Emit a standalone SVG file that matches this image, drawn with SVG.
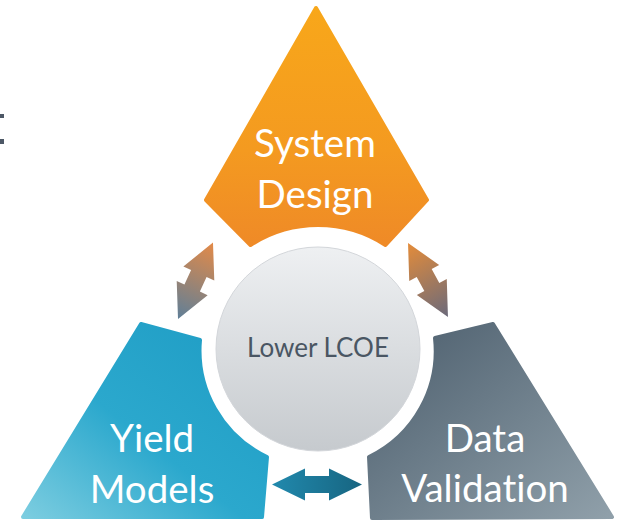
<svg xmlns="http://www.w3.org/2000/svg" width="619" height="525" viewBox="0 0 619 525">
  <defs>
    <linearGradient id="gOrange" x1="0" y1="0" x2="0" y2="1">
      <stop offset="0" stop-color="#f8a71a"/>
      <stop offset="0.6" stop-color="#f49a20"/>
      <stop offset="1" stop-color="#ef8a27"/>
    </linearGradient>
    <linearGradient id="gTeal" x1="0" y1="1" x2="1" y2="0">
      <stop offset="0" stop-color="#7ccde0"/>
      <stop offset="0.45" stop-color="#2ba8cd"/>
      <stop offset="1" stop-color="#1e9cc4"/>
    </linearGradient>
    <linearGradient id="gSlate" x1="0" y1="0" x2="1" y2="1">
      <stop offset="0" stop-color="#4b5d6c"/>
      <stop offset="1" stop-color="#90a0aa"/>
    </linearGradient>
    <linearGradient id="gCore" x1="0" y1="0" x2="0" y2="1">
      <stop offset="0" stop-color="#eef0f2"/>
      <stop offset="1" stop-color="#c6cace"/>
    </linearGradient>
    <linearGradient id="gArrowL" x1="0" y1="0" x2="1" y2="0">
      <stop offset="0" stop-color="#5f7f98"/>
      <stop offset="1" stop-color="#e38a48"/>
    </linearGradient>
    <linearGradient id="gArrowR" x1="0" y1="0" x2="1" y2="0">
      <stop offset="0" stop-color="#e48c3a"/>
      <stop offset="1" stop-color="#6b6a7b"/>
    </linearGradient>
    <linearGradient id="gArrowB" x1="0" y1="0" x2="1" y2="0">
      <stop offset="0" stop-color="#2189ad"/>
      <stop offset="1" stop-color="#176581"/>
    </linearGradient>
    <!-- double-headed arrow, centred on the origin along x -->
    <path id="dblArrow" d="M -42,0 L -8,-17 L -8,-8.5 L 8,-8.5 L 8,-17 L 42,0 L 8,17 L 8,8.5 L -8,8.5 L -8,17 Z"/>
    <path id="dblArrowWide" d="M -45,0 L -12,-16 L -12,-8.5 L 12,-8.5 L 12,-16 L 45,0 L 12,16 L 12,8.5 L -12,8.5 L -12,16 Z"/>
  </defs>
  <style>
    text { font-variant-ligatures: none; font-feature-settings: "liga" 0, "clig" 0; }
    .label { font-family: Lato, "Liberation Sans", sans-serif; fill: #ffffff; font-size: 38.5px; text-anchor: middle; }
    .core { font-family: Lato, "Liberation Sans", sans-serif; fill: #4a5663; font-size: 26px; text-anchor: middle; }
    .shape { stroke-width: 4; stroke-linejoin: round; }
  </style>

  <!-- clipped glyph fragment at the left edge -->
  <rect x="0" y="114" width="4" height="4" fill="#4d5866"/>
  <rect x="0" y="139" width="4" height="5" fill="#4d5866"/>

  <g id="connectors">
    <use href="#dblArrow" fill="url(#gArrowL)" transform="translate(195.5,280.8) rotate(-65.4)"/>
    <use href="#dblArrow" fill="url(#gArrowR)" transform="translate(428,280) rotate(61.6)"/>
    <use href="#dblArrowWide" fill="url(#gArrowB)" transform="translate(317,484.5)"/>
  </g>

  <g id="system-design">
    <path class="shape" fill="url(#gOrange)" stroke="url(#gOrange)"
          d="M 316,8 L 206,200 L 250.5,245 A 124,124 0 0 1 385.5,245 L 427,200 Z"/>
    <text class="label" x="315" y="157">System</text>
    <text class="label" x="315" y="208">Design</text>
  </g>

  <g id="yield-models">
    <path class="shape" fill="url(#gTeal)" stroke="url(#gTeal)"
          d="M 141,324 L 200,340 A 118,118 0 0 0 267,457 L 262,517 L 23,517 Z"/>
    <text class="label" x="152" y="452">Yield</text>
    <text class="label" x="152" y="503">Models</text>
  </g>

  <g id="data-validation">
    <path class="shape" fill="url(#gSlate)" stroke="url(#gSlate)"
          d="M 435,338 L 493,324 L 612,517 L 372,518 L 369,457 A 118,118 0 0 0 435,338 Z"/>
    <text class="label" x="485" y="452">Data</text>
    <text class="label" x="485" y="502">Validation</text>
  </g>

  <g id="lower-lcoe">
    <circle cx="318" cy="349" r="102" fill="url(#gCore)" stroke="#d3d6da" stroke-width="1"/>
    <text class="core" x="318" y="357">Lower LCOE</text>
  </g>
</svg>
